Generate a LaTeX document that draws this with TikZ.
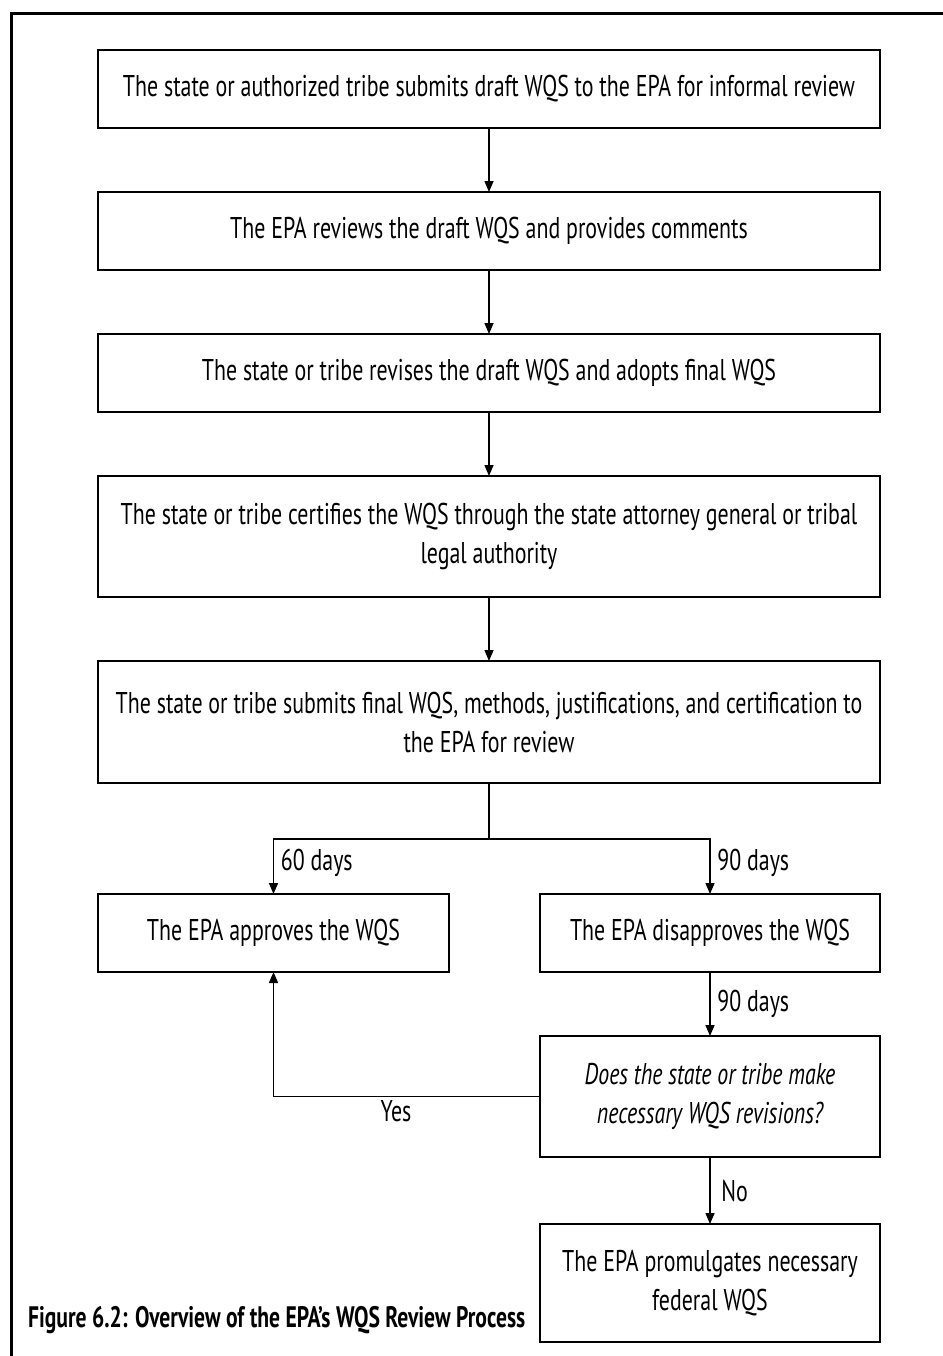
\documentclass[tikz,border=0pt]{standalone}
\usepackage{fontspec}
\setmainfont{PT Sans}[FakeStretch=0.73]
\usetikzlibrary{arrows.meta, positioning}

\begin{document}
\begin{tikzpicture}[
    process/.style={rectangle, draw=black, line width=1pt, outer sep=0pt, minimum width=391pt, minimum height=39pt, align=center, font=\fontsize{15}{19.5}\selectfont},
    smallbox/.style={process, minimum width=170pt},
    decision/.style={smallbox, minimum height=60.5pt, font=\fontsize{15}{19.5}\selectfont\itshape},
    daylabel/.style={right, font=\fontsize{15}{18}\selectfont},
    arrow/.style={-{Triangle[length=5.5pt, width=4.5pt]}, line width=0.75pt},
    node distance=32pt
]
\useasboundingbox (0,0) rectangle (471.5pt,-678pt);

% Frame
\draw[line width=1.5pt] (5.5pt,-678pt) -- (5.5pt,-6.5pt) -- (471.5pt,-6.5pt);

\node[process] (submit) at (244.5pt,-44.5pt) {The state or authorized tribe submits draft WQS to the EPA for informal review};
\node[process, below=of submit] (comments) {The EPA reviews the draft WQS and provides comments};
\node[process, below=of comments] (revise) {The state or tribe revises the draft WQS and adopts final WQS};
\node[process, below=of revise, minimum height=60.5pt] (certify) {The state or tribe certifies the WQS through the state attorney general or tribal\\ legal authority};
\node[process, below=of certify, minimum height=61pt] (final) {The state or tribe submits final WQS, methods, justifications, and certification to\\ the EPA for review};

\node[smallbox, minimum width=175.5pt, below=55.5pt of final.south west, anchor=north west] (approve) {The EPA approves the WQS};
\node[smallbox, below=55.5pt of final.south east, anchor=north east] (disapprove) {The EPA disapproves the WQS};
\node[decision, below=of disapprove] (revisions) {Does the state or tribe make\\ necessary WQS revisions?};
\node[smallbox, below=33.5pt of revisions, minimum height=59pt] (promulgate) {The EPA promulgates necessary\\ federal WQS};

\node[anchor=west, font=\fontsize{14.8}{18}\selectfont\bfseries] (caption) at (10.5pt,-660pt) {Figure 6.2: Overview of the EPA’s WQS Review Process};

% Arrows
\draw[arrow] (submit) -- (comments);
\draw[arrow] (comments) -- (revise);
\draw[arrow] (revise) -- (certify);
\draw[arrow] (certify) -- (final);
\draw[line width=0.75pt] (final.south) -- ++(0,-28pt) coordinate (split);
\draw[arrow] (split) -| node[daylabel, pos=0.72] {60 days} (approve);
\draw[arrow] (split) -| node[daylabel, pos=0.72] {90 days} (disapprove);
\draw[arrow] (disapprove) -- node[daylabel] {90 days} (revisions);
\draw[arrow] (revisions.west) -| node[below, inner sep=1.5pt, pos=0.27, font=\fontsize{15}{18}\selectfont] {Yes} (approve.south);
\draw[arrow] (revisions) -- node[daylabel, xshift=2pt] {No} (promulgate);

\end{tikzpicture}
\end{document}
